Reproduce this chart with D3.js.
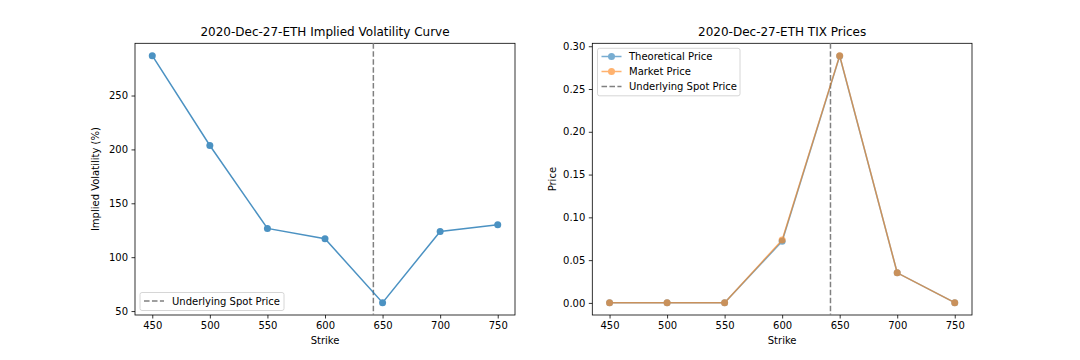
<!DOCTYPE html>
<html><head><meta charset="utf-8">
<script src="https://cdn.jsdelivr.net/npm/d3@7"></script>
<style>body{margin:0;background:#fff}svg{display:block;font-family:"DejaVu Sans",sans-serif}</style>
</head><body><svg id="c" width="1080" height="360"></svg>
<script>
const strikes = [450, 500, 550, 600, 650, 700, 750];
const impliedVol = [287, 203.6, 126.7, 117.1, 57.8, 123.9, 130.1];
const theoreticalPrice = [0.0003, 0.0003, 0.0003, 0.072, 0.2885, 0.0352, 0.0003];
const marketPrice = [0.0003, 0.0003, 0.0003, 0.0735, 0.2890, 0.0352, 0.0003];
const spotPrice = 642;
const xTicks = [450, 500, 550, 600, 650, 700, 750];
const ivTicks = [50, 100, 150, 200, 250];
const priceTicks = [0, 0.05, 0.10, 0.15, 0.20, 0.25, 0.30];
const expiry = "2020-Dec-27-ETH";

const svg = d3.select("#c");
const plotTop = 43.3, plotBottom = 315;
const panels = [{l:135, r:515}, {l:592.3, r:972}];

function pad(ext){const m=(ext[1]-ext[0])*0.05;return [ext[0]-m, ext[1]+m];}

function frame(g, x, y, p, yTicks, yFmt, title, ylabel){
  g.append("g").attr("transform",`translate(0,${plotBottom})`)
   .call(d3.axisBottom(x).tickValues(xTicks).tickSizeOuter(0).tickSize(3.5).tickPadding(3.5).tickFormat(d3.format("d")));
  g.append("g").attr("transform",`translate(${p.l},0)`)
   .call(d3.axisLeft(y).tickValues(yTicks).tickSizeOuter(0).tickSize(3.5).tickPadding(3.5).tickFormat(yFmt));
  g.selectAll(".domain").remove();
  g.selectAll(".tick line").attr("stroke","#000").attr("stroke-width",0.8);
  g.selectAll(".tick text").attr("font-size",10).attr("fill","#000").attr("font-family","DejaVu Sans");
  g.append("rect").attr("x",p.l).attr("y",plotTop).attr("width",p.r-p.l).attr("height",plotBottom-plotTop)
   .attr("fill","none").attr("stroke","#000").attr("stroke-width",0.8);
  g.append("text").attr("x",(p.l+p.r)/2).attr("y",plotTop-7).attr("text-anchor","middle")
   .attr("font-size",12).text(title);
  g.append("text").attr("x",(p.l+p.r)/2).attr("y",344).attr("text-anchor","middle")
   .attr("font-size",10).text("Strike");
  const yl = p.l - 36;
  g.append("text").attr("transform",`translate(${yl},${(plotTop+plotBottom)/2}) rotate(-90)`)
   .attr("text-anchor","middle").attr("font-size",10).text(ylabel);
  g.append("line").attr("x1",x(spotPrice)).attr("x2",x(spotPrice)).attr("y1",plotTop).attr("y2",plotBottom)
   .attr("stroke","#808080").attr("stroke-width",1.5).attr("stroke-dasharray","5.55,2.4");
}

function series(g, x, y, vals, color, op){
  const pts = strikes.map((s,i)=>[s,vals[i]]);
  const s = g.append("g").attr("opacity",op);
  s.append("path").attr("d",d3.line().x(d=>x(d[0])).y(d=>y(d[1]))(pts))
   .attr("fill","none").attr("stroke",color).attr("stroke-width",1.5);
  s.selectAll("circle").data(pts).join("circle").attr("cx",d=>x(d[0])).attr("cy",d=>y(d[1])).attr("r",3.5).attr("fill",color);
}

{
  const p = panels[0];
  const x = d3.scaleLinear().domain(pad(d3.extent(strikes))).range([p.l,p.r]);
  const y = d3.scaleLinear().domain(pad(d3.extent(impliedVol))).range([plotBottom,plotTop]);
  const g = svg.append("g");
  frame(g,x,y,p,ivTicks,d3.format("d"),expiry+" Implied Volatility Curve","Implied Volatility (%)");
  series(g,x,y,impliedVol,"#1f77b4",0.8);
  const lg = g.append("g");
  lg.append("rect").attr("x",140).attr("y",292.5).attr("width",144).attr("height",18).attr("rx",2)
   .attr("fill","#fff").attr("fill-opacity",0.8).attr("stroke","#ccc").attr("stroke-width",0.8);
  lg.append("line").attr("x1",144).attr("x2",164).attr("y1",301).attr("y2",301)
   .attr("stroke","#808080").attr("stroke-width",1.5).attr("stroke-dasharray","5.55,2.4");
  lg.append("text").attr("x",172).attr("y",305).attr("font-size",10).text("Underlying Spot Price");
}
{
  const p = panels[1];
  const x = d3.scaleLinear().domain(pad(d3.extent(strikes))).range([p.l,p.r]);
  const y = d3.scaleLinear().domain(pad(d3.extent(theoreticalPrice.concat(marketPrice)))).range([plotBottom,plotTop]);
  const g = svg.append("g");
  frame(g,x,y,p,priceTicks,d3.format(".2f"),expiry+" TIX Prices","Price");
  series(g,x,y,theoreticalPrice,"#1f77b4",0.6);
  series(g,x,y,marketPrice,"#ff7f0e",0.6);
  const lg = g.append("g");
  lg.append("rect").attr("x",597.5).attr("y",48.3).attr("width",142.5).attr("height",47.5).attr("rx",2)
   .attr("fill","#fff").attr("fill-opacity",0.8).attr("stroke","#ccc").attr("stroke-width",0.8);
  const items = [["Theoretical Price","#1f77b4",true],["Market Price","#ff7f0e",true],["Underlying Spot Price","#808080",false]];
  items.forEach((it,i)=>{
    const yy = 56.5 + i*15;
    const e = lg.append("g").attr("opacity", it[2]?0.6:1);
    const ln = e.append("line").attr("x1",601.5).attr("x2",621.5).attr("y1",yy).attr("y2",yy)
      .attr("stroke",it[1]).attr("stroke-width",1.5);
    if(it[2]) e.append("circle").attr("cx",611.5).attr("cy",yy).attr("r",3.5).attr("fill",it[1]);
    else ln.attr("stroke-dasharray","5.55,2.4");
    lg.append("text").attr("x",629).attr("y",yy+3.5).attr("font-size",10).text(it[0]);
  });
}
</script></body></html>
